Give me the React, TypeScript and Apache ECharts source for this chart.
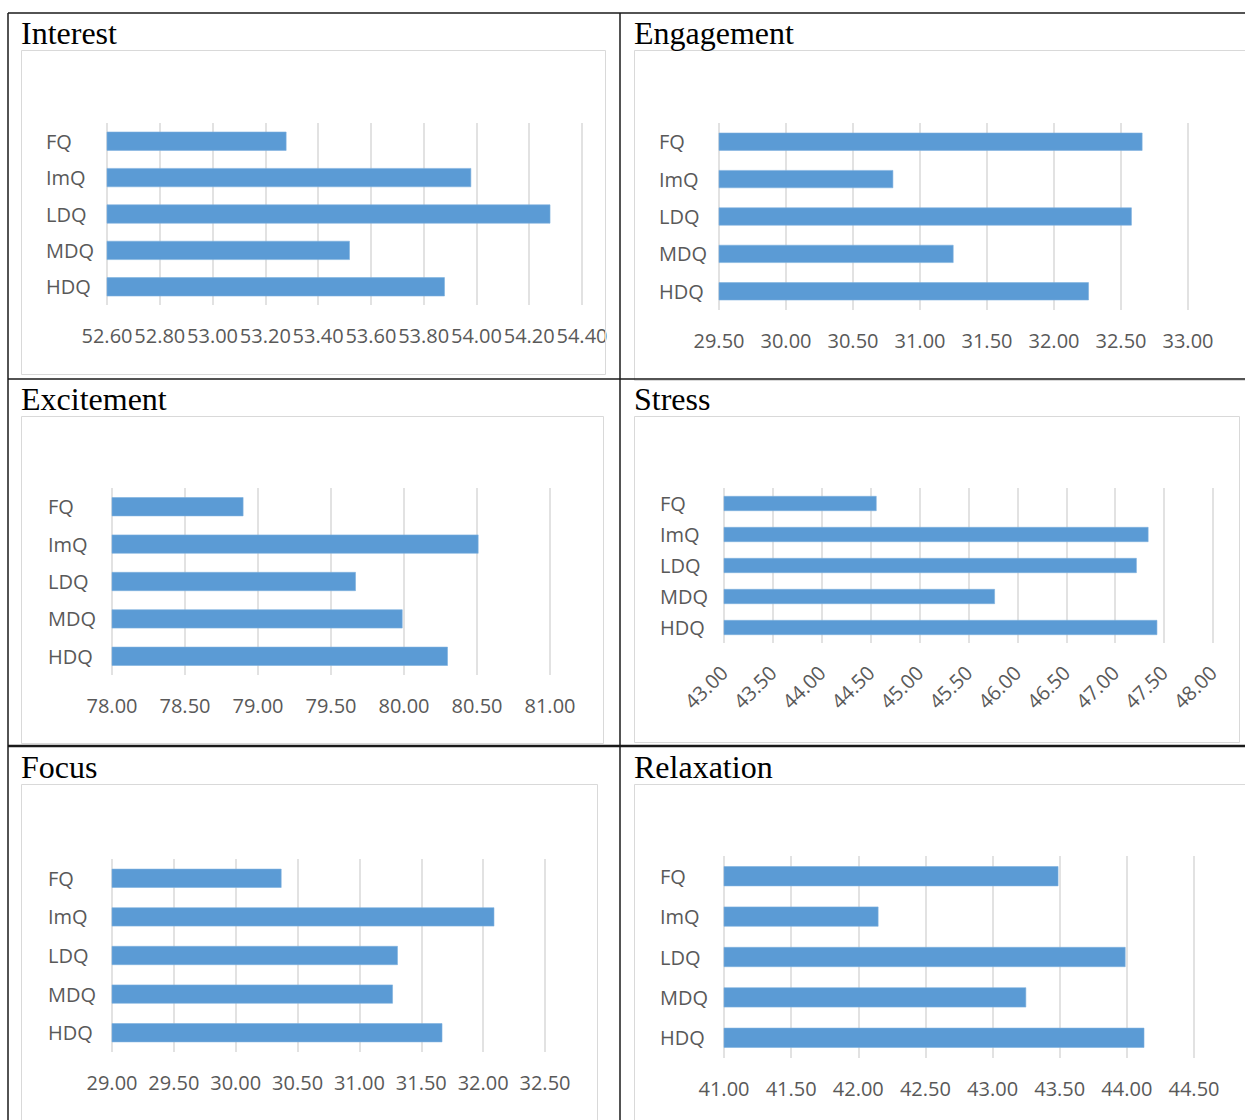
import React, { useEffect, useRef } from "react";
import * as echarts from "echarts";

// Question conditions (top to bottom in every panel)
const categories = ["FQ", "ImQ", "LDQ", "MDQ", "HDQ"];

// Mean scores per condition for each metric
const interestValues = [53.28, 53.98, 54.28, 53.52, 53.88];
const engagementValues = [32.66, 30.8, 32.58, 31.25, 32.26];
const excitementValues = [78.9, 80.51, 79.67, 79.99, 80.3];
const stressValues = [44.56, 47.34, 47.22, 45.77, 47.43];
const focusValues = [30.37, 32.09, 31.31, 31.27, 31.67];
const relaxationValues = [43.49, 42.15, 43.99, 43.25, 44.13];

// Axis ranges: [min, max, step]
const interestAxis = [52.6, 54.4, 0.2];
const engagementAxis = [29.5, 33.0, 0.5];
const excitementAxis = [78.0, 81.0, 0.5];
const stressAxis = [43.0, 48.0, 0.5];
const focusAxis = [29.0, 32.5, 0.5];
const relaxationAxis = [41.0, 44.5, 0.5];

const panelTitles = ["Interest", "Engagement", "Excitement", "Stress", "Focus", "Relaxation"];

const panels = [
  { title: panelTitles[0], values: interestValues, axis: interestAxis },
  { title: panelTitles[1], values: engagementValues, axis: engagementAxis },
  { title: panelTitles[2], values: excitementValues, axis: excitementAxis },
  { title: panelTitles[3], values: stressValues, axis: stressAxis },
  { title: panelTitles[4], values: focusValues, axis: focusAxis },
  { title: panelTitles[5], values: relaxationValues, axis: relaxationAxis },
];

// Placement of each panel on the page
const layout = [
  { grid: [107, 123, 475, 182], bar: 19, yMargin: 61, box: [21.5, 50.5, 584, 324], titleXY: [21, 33], rotate: 0 },
  { grid: [719, 123, 469, 187], bar: 18, yMargin: 60, box: [634.5, 50.5, 640, 330], titleXY: [634, 33], rotate: 0 },
  { grid: [112, 488, 438, 187], bar: 19, yMargin: 64, box: [21.5, 416.5, 582, 327], titleXY: [21, 399], rotate: 0 },
  { grid: [724, 488, 489, 155], bar: 15, yMargin: 64, box: [634.5, 416.5, 605, 326], titleXY: [634, 399], rotate: 45 },
  { grid: [112, 859, 433, 193], bar: 19, yMargin: 64, box: [21.5, 784.5, 576, 400], titleXY: [21, 767], rotate: 0 },
  { grid: [724, 856, 470, 202], bar: 20, yMargin: 64, box: [634.5, 784.5, 640, 400], titleXY: [634, 767], rotate: 0 },
];

const BAR_COLOR = "#5B9BD5";
const LABEL_COLOR = "#595959";
const GRID_COLOR = "#D9D9D9";
const SANS = "'Open Sans', 'Noto Sans', sans-serif";
const SERIF = "'Liberation Serif', 'Times New Roman', serif";

export default function App() {
  const ref = useRef<HTMLDivElement>(null);

  useEffect(() => {
    if (!ref.current) return;
    const chart = echarts.init(ref.current, undefined, { renderer: "svg" });

    const grids = layout.map((l) => ({
      left: l.grid[0],
      top: l.grid[1],
      width: l.grid[2],
      height: l.grid[3],
      containLabel: false,
    }));

    const xAxes = panels.map((p, i) => ({
      type: "value",
      gridIndex: i,
      min: p.axis[0],
      max: p.axis[1],
      interval: p.axis[2],
      axisLine: { show: false },
      axisTick: { show: false },
      splitLine: { show: true, lineStyle: { color: GRID_COLOR, width: 1.5 } },
      axisLabel: {
        color: LABEL_COLOR,
        fontFamily: SANS,
        fontSize: 20,
        margin: layout[i].rotate ? 26 : 20,
        rotate: layout[i].rotate,
        hideOverlap: false,
        showMinLabel: true,
        showMaxLabel: true,
        formatter: (v: number) => v.toFixed(2),
      },
    }));

    const yAxes = panels.map((p, i) => ({
      type: "category",
      gridIndex: i,
      data: categories,
      inverse: true,
      axisLine: { show: false },
      axisTick: { show: false },
      splitLine: { show: false },
      axisLabel: {
        color: LABEL_COLOR,
        fontFamily: SANS,
        fontSize: 20,
        align: "left",
        margin: layout[i].yMargin,
      },
    }));

    const series = panels.map((p, i) => ({
      type: "bar",
      xAxisIndex: i,
      yAxisIndex: i,
      data: p.values,
      barWidth: layout[i].bar,
      itemStyle: { color: BAR_COLOR, borderColor: "#7EB0DE", borderWidth: 0.6 },
      silent: true,
    }));

    const graphics: any[] = [];
    // Chart frames
    layout.forEach((l) => {
      graphics.push({
        type: "rect",
        shape: { x: l.box[0], y: l.box[1], width: l.box[2], height: l.box[3] },
        style: { fill: "none", stroke: GRID_COLOR, lineWidth: 1 },
        z: 1,
      });
    });
    // Panel titles
    panels.forEach((p, i) => {
      graphics.push({
        type: "text",
        x: layout[i].titleXY[0],
        y: layout[i].titleXY[1],
        style: {
          text: p.title,
          font: `32px ${SERIF}`,
          fill: "#000",
          verticalAlign: "middle",
          align: "left",
        },
        z: 5,
      });
    });
    // Table rules
    const rules = [
      [8, 13, 1245, 13, 1.5],
      [8, 379, 1245, 379, 1.5],
      [8, 746, 1245, 746, 2.5],
      [8, 13, 8, 1120, 1.5],
      [620, 13, 620, 1120, 1.5],
    ];
    rules.forEach((r) => {
      graphics.push({
        type: "line",
        shape: { x1: r[0], y1: r[1], x2: r[2], y2: r[3] },
        style: { stroke: "#1a1a1a", lineWidth: r[4] },
        z: 10,
      });
    });

    chart.setOption({
      animation: false,
      backgroundColor: "#fff",
      grid: grids,
      xAxis: xAxes,
      yAxis: yAxes,
      series,
      graphic: graphics,
    });

    return () => chart.dispose();
  }, []);

  return (
    <div
      ref={ref}
      style={{ position: "absolute", left: 0, top: 0, width: 1245, height: 1120 }}
    />
  );
}
